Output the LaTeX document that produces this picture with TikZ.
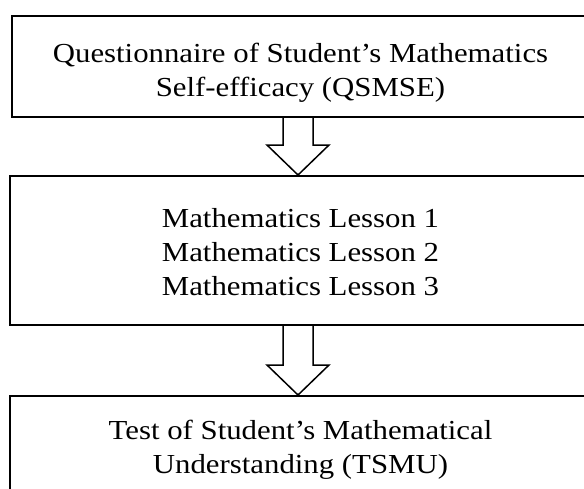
\documentclass[tikz,border=0pt]{standalone}
\usepackage{fontspec}
\setmainfont{Liberation Serif}[FakeStretch=1.12]
\usetikzlibrary{calc}
\begin{document}
\begin{tikzpicture}[x=1pt,y=-1pt,
  box/.style={draw, line width=2pt, rectangle, inner sep=0pt},
  txt/.style={align=center, font=\fontsize{27.5}{34}\selectfont, inner sep=0pt},
  blockarrow/.style={draw, line width=1.5pt}]
\useasboundingbox (0,0) rectangle (584,488);
% boxes (right and bottom edges run past the picture)
\node[box, minimum width=588pt, minimum height=101pt] (q) at (306,66.5) {};
\node[box, minimum width=590pt, minimum height=149pt] (m) at (305,250.5) {};
\node[box, minimum width=590pt, minimum height=120pt] (t) at (305,456) {};
% texts
\node[txt] (qt) at (300.5,73) {Questionnaire of Student’s Mathematics\\Self-efficacy (QSMSE)};
\node[txt] (mt) at (300.5,251.6) {Mathematics Lesson 1\\Mathematics Lesson 2\\Mathematics Lesson 3};
\node[txt] (tt) at (300.5,450) {Test of Student’s Mathematical\\Understanding (TSMU)};
% block arrows
\coordinate (a1) at (298,0 |- q.south);
\coordinate (b1) at (298,0 |- m.north);
\coordinate (a2) at (298,0 |- m.south);
\coordinate (b2) at (298,0 |- t.north);
\foreach \a/\b in {a1/b1,a2/b2}{
  \draw[blockarrow] ($(\a)+(-15,0)$) -- ($(\b)+(-15,-30)$) -- ($(\b)+(-31,-30)$)
    -- (\b) -- ($(\b)+(31,-30)$) -- ($(\b)+(15,-30)$) -- ($(\a)+(15,0)$);
}
\end{tikzpicture}
\end{document}
